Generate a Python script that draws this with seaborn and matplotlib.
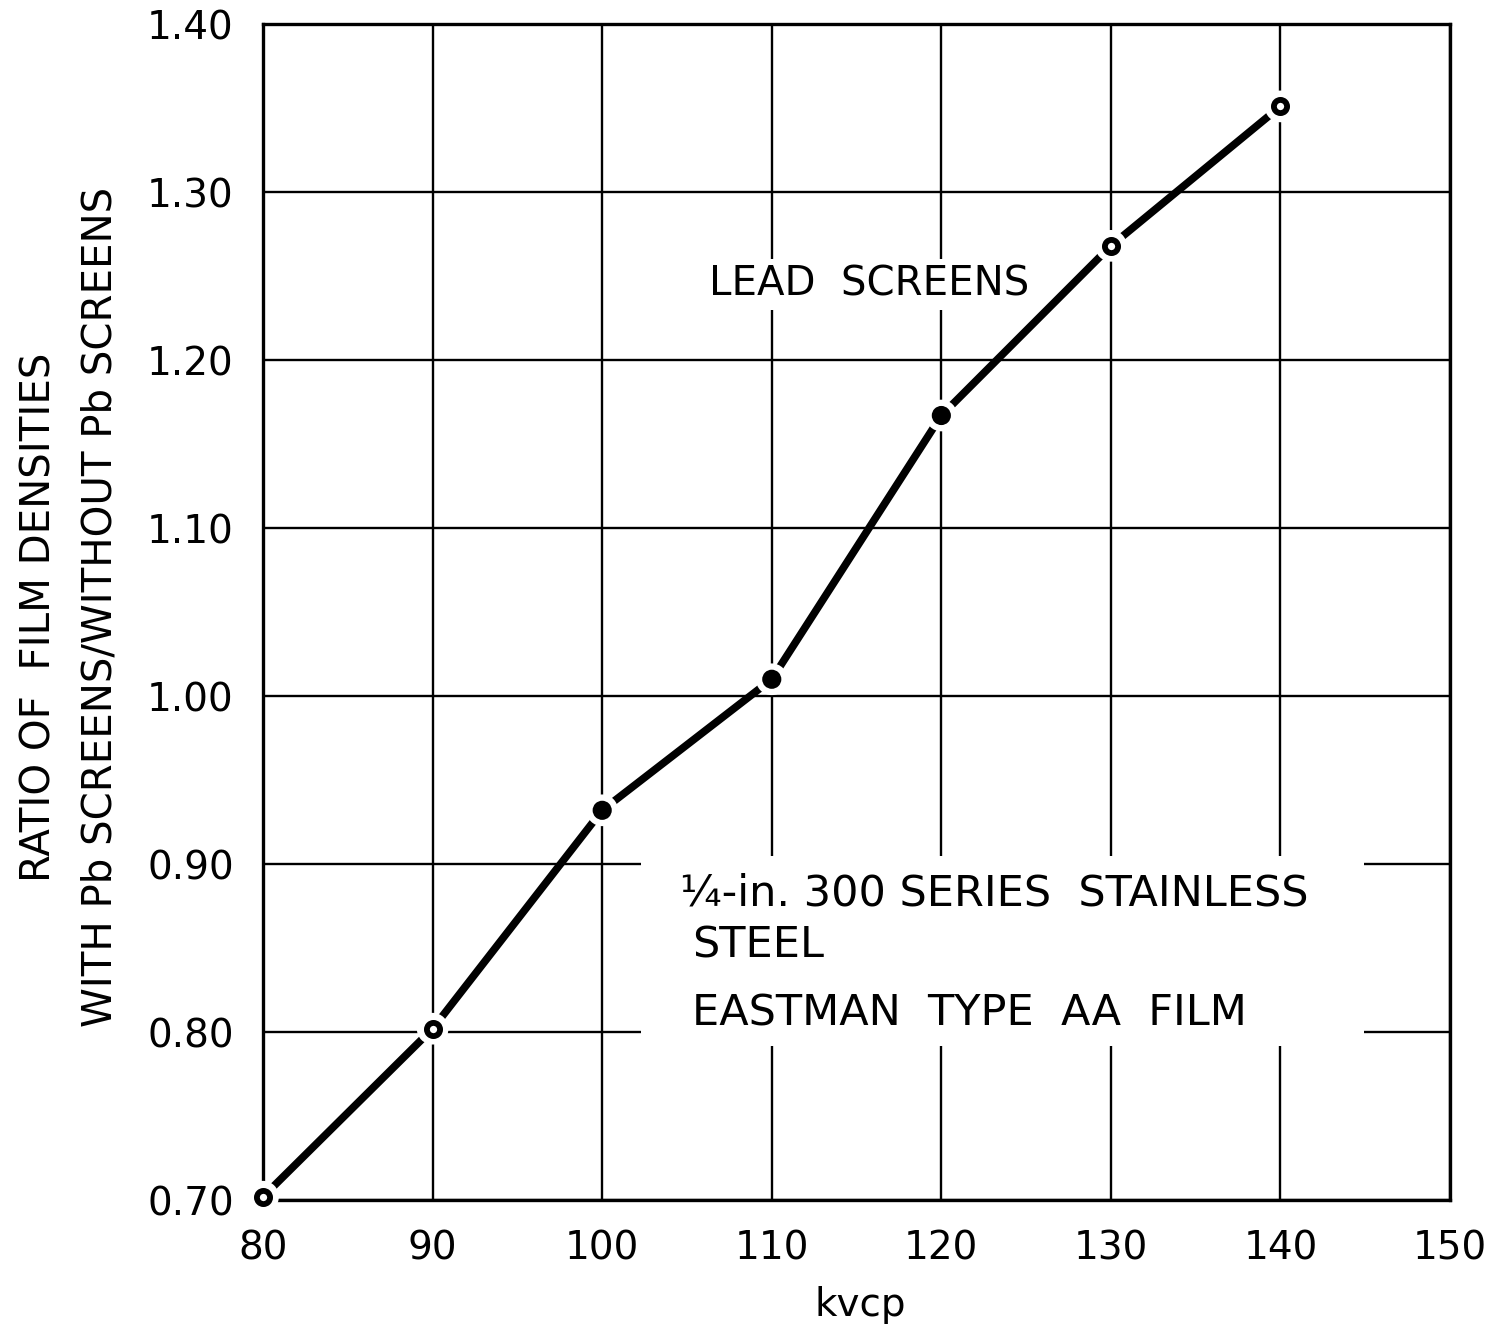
import pandas as pd
import seaborn as sns
import matplotlib.pyplot as plt
from matplotlib.patches import Rectangle

# Values
kvcp = [80, 90, 100, 110, 120, 130, 140]
ratio = [0.702, 0.802, 0.932, 1.010, 1.167, 1.268, 1.351]
filled = [False, False, True, True, True, False, False]

x_ticks = [80, 90, 100, 110, 120, 130, 140, 150]
y_ticks = [0.70, 0.80, 0.90, 1.00, 1.10, 1.20, 1.30, 1.40]
y_tick_labels = ["0.70", "0.80", "0.90", "1.00", "1.10", "1.20", "1.30", "1.40"]

df = pd.DataFrame({"kvcp": kvcp, "ratio": ratio, "filled": filled})
solid = df[df["filled"]]
hollow = df[~df["filled"]]

sns.set_style("white")
plt.rcParams['font.family'] = ['DejaVu Sans']
plt.rcParams['text.color'] = 'black'
plt.rcParams['axes.labelcolor'] = 'black'

fig = plt.figure(figsize=(14.98, 13.30), dpi=100)
ax = fig.add_axes([0.1756, 0.0977, 0.7924, 0.8842])

# Curve
sns.lineplot(data=df, x="kvcp", y="ratio", color="black", linewidth=5.5,
             ax=ax, zorder=3, clip_on=False)
# White halo so the curve breaks around each point
sns.scatterplot(data=df, x="kvcp", y="ratio", s=520, color="white",
                edgecolor="none", ax=ax, zorder=4, clip_on=False)
# Points
sns.scatterplot(data=solid, x="kvcp", y="ratio", s=190, color="black",
                edgecolor="none", ax=ax, zorder=5, clip_on=False)
sns.scatterplot(data=hollow, x="kvcp", y="ratio", s=90, color="white",
                edgecolor="black", linewidth=4.2, ax=ax, zorder=5,
                clip_on=False)

ax.set_xlim(80, 150)
ax.set_ylim(0.70, 1.40)
ax.set_xticks(x_ticks)
ax.set_yticks(y_ticks)
ax.set_yticklabels(y_tick_labels)
ax.grid(True, color="black", linewidth=1.7)
ax.set_axisbelow(True)
for sp in ax.spines.values():
    sp.set_color("black")
    sp.set_linewidth(2.4)
ax.tick_params(axis="both", length=0, labelsize=28, colors="black")
ax.tick_params(axis="x", pad=21)
ax.tick_params(axis="y", pad=21)

# Labels
ax.set_xlabel("kvcp", fontsize=28, va="center")
ax.xaxis.set_label_coords(0.503, -0.089)
ax.set_ylabel("")
fig.text(0.0267, 0.536, "RATIO OF  FILM DENSITIES", rotation=90,
         ha="center", va="center", fontsize=29)
fig.text(0.0668, 0.5436, "WITH Pb SCREENS/WITHOUT Pb SCREENS", rotation=90,
         ha="center", va="center", fontsize=29)

# Annotations
ax.text(106.3, 1.245, "LEAD  SCREENS", fontsize=29, va="center", ha="left",
        zorder=6, bbox=dict(facecolor="white", edgecolor="none", pad=4))
ax.add_patch(Rectangle((102.3, 0.792), 42.6, 0.113, facecolor="white",
                       edgecolor="none", zorder=2))
ax.text(104.6, 0.8827, "\u00bc-in. 300 SERIES  STAINLESS", fontsize=31,
        va="center", ha="left", zorder=6)
ax.text(105.3, 0.8518, "STEEL", fontsize=31, va="center", ha="left", zorder=6)
ax.text(105.3, 0.8113, "EASTMAN  TYPE  AA  FILM", fontsize=31, va="center",
        ha="left", zorder=6)

fig.savefig("out.png", dpi=100)
